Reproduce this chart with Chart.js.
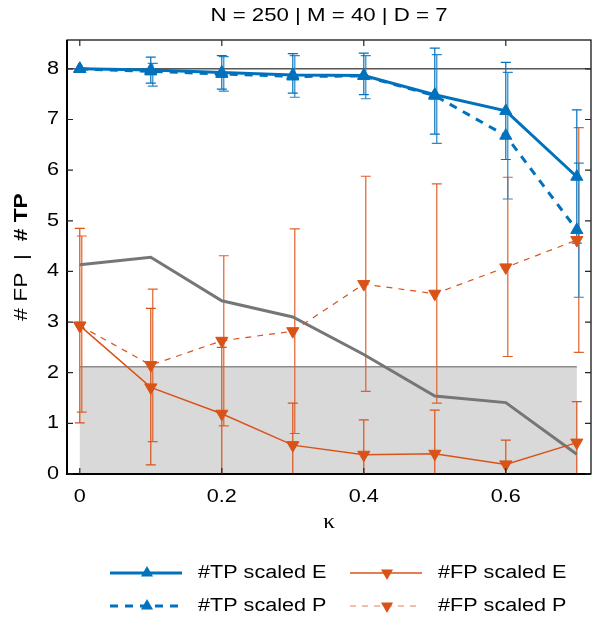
<!DOCTYPE html>
<html>
<head>
<meta charset="utf-8">
<script src="https://cdn.jsdelivr.net/npm/chart.js@4.4.1/dist/chart.umd.min.js"></script>
<style>
  html, body { margin: 0; padding: 0; background: #ffffff; }
  #wrap { width: 599px; height: 619px; }
</style>
</head>
<body>
<div id="wrap"><canvas id="c" width="599" height="619"></canvas></div>
<script>
// ---------- data ----------
const kappa = [0, 0.1, 0.2, 0.3, 0.4, 0.5, 0.6, 0.7];

const tpScaledE     = [8.00, 7.98, 7.93, 7.88, 7.87, 7.49, 7.17, 5.87];
const tpScaledELow  = [8.00, 7.72, 7.60, 7.52, 7.49, 6.71, 6.21, 4.56];
const tpScaledEHigh = [8.00, 8.23, 8.26, 8.30, 8.31, 8.41, 8.13, 7.19];

const tpScaledP     = [8.00, 7.95, 7.90, 7.85, 7.86, 7.47, 6.68, 4.82];
const tpScaledPLow  = [8.00, 7.66, 7.56, 7.44, 7.41, 6.53, 5.43, 3.49];
const tpScaledPHigh = [8.00, 8.11, 8.24, 8.26, 8.26, 8.28, 7.93, 6.14];

const fpScaledE     = [2.93, 1.71, 1.19, 0.57, 0.38, 0.40, 0.19, 0.62];
const fpScaledELow  = [1.01, 0.18, -0.12, -0.26, -0.31, -0.44, -0.29, -0.19];
const fpScaledEHigh = [4.85, 3.27, 2.50, 1.40, 1.07, 1.26, 0.67, 1.43];

const fpScaledP     = [2.93, 2.15, 2.63, 2.82, 3.75, 3.56, 4.08, 4.62];
const fpScaledPLow  = [1.22, 0.64, 0.95, 0.80, 1.63, 1.40, 2.32, 2.40];
const fpScaledPHigh = [4.70, 3.65, 4.31, 4.84, 5.88, 5.73, 5.86, 6.84];

const grayLine = [4.13, 4.28, 3.42, 3.10, 2.36, 1.54, 1.41, 0.39];

const shadeX = [0, 0.7];
const shadeY = [0, 2.12];
const refLineY = 8;

const xTicks = [0, 0.2, 0.4, 0.6];
const yTicks = [0, 1, 2, 3, 4, 5, 6, 7, 8];
const xRange = [-0.018, 0.72];
const yRange = [0, 8.57];

const titleText = 'N = 250 | M = 40 | D = 7';
const xTitle = 'κ';
const yTitleNormal = '# FP  |  ';
const yTitleBold = '# TP';

const legendLabels = ['#TP scaled E', '#TP scaled P', '#FP scaled E', '#FP scaled P'];

// ---------- styles ----------
const BLUE = '#0072BD';
const ORANGE = '#D95319';
const FONT = "'Liberation Sans', Arial, Helvetica, sans-serif";
const SX = 1.2; // horizontal text widening

function pts(ys) { return kappa.map((x, i) => ({ x: x, y: ys[i] })); }

const datasets = [
  { label: 'gray', data: pts(grayLine), borderColor: '#767676', borderWidth: 3,
    pointRadius: 0, fill: false, tension: 0, order: 5 },
  { label: legendLabels[3], data: pts(fpScaledP), borderColor: ORANGE, borderWidth: 1.2,
    borderDash: [6, 6], pointStyle: 'triangle', pointRotation: 180, pointRadius: 7,
    pointBackgroundColor: ORANGE, pointBorderColor: ORANGE, pointBorderWidth: 1, order: 4 },
  { label: legendLabels[2], data: pts(fpScaledE), borderColor: ORANGE, borderWidth: 1.5,
    pointStyle: 'triangle', pointRotation: 180, pointRadius: 7,
    pointBackgroundColor: ORANGE, pointBorderColor: ORANGE, pointBorderWidth: 1, order: 3 },
  { label: legendLabels[1], data: pts(tpScaledP), borderColor: BLUE, borderWidth: 3,
    borderDash: [8, 7], pointStyle: 'triangle', pointRadius: 7,
    pointBackgroundColor: BLUE, pointBorderColor: BLUE, pointBorderWidth: 1, order: 2 },
  { label: legendLabels[0], data: pts(tpScaledE), borderColor: BLUE, borderWidth: 3,
    pointStyle: 'triangle', pointRadius: 7,
    pointBackgroundColor: BLUE, pointBorderColor: BLUE, pointBorderWidth: 1, order: 1 }
];

const errorSets = [
  { low: fpScaledPLow, high: fpScaledPHigh, color: '#E0622A', width: 1.2, off: 2 },
  { low: fpScaledELow, high: fpScaledEHigh, color: ORANGE, width: 1.2, off: 0 },
  { low: tpScaledPLow, high: tpScaledPHigh, color: '#2A86C8', width: 1.2, off: 2 },
  { low: tpScaledELow, high: tpScaledEHigh, color: BLUE, width: 1.2, off: 0 }
];

function triangle(ctx, cx, cy, r, down) {
  const s = down ? -1 : 1;
  ctx.beginPath();
  ctx.moveTo(cx, cy - s * r);
  ctx.lineTo(cx - r * 0.866, cy + s * r / 2);
  ctx.lineTo(cx + r * 0.866, cy + s * r / 2);
  ctx.closePath();
  ctx.fill();
}

function wideText(ctx, text, x, y, align, font, sx) {
  ctx.save();
  ctx.translate(x, y);
  ctx.scale(sx, 1);
  ctx.font = font;
  ctx.textAlign = align;
  ctx.textBaseline = 'middle';
  ctx.fillText(text, 0, 0);
  ctx.restore();
}

const decor = {
  id: 'decor',
  beforeDatasetsDraw(chart) {
    const ctx = chart.ctx, xs = chart.scales.x, ys = chart.scales.y, a = chart.chartArea;
    ctx.save();
    ctx.beginPath(); ctx.rect(a.left, a.top, a.right - a.left, a.bottom - a.top); ctx.clip();
    // shaded region
    const x0 = xs.getPixelForValue(shadeX[0]), x1 = xs.getPixelForValue(shadeX[1]);
    const y0 = ys.getPixelForValue(shadeY[0]), y1 = ys.getPixelForValue(shadeY[1]);
    ctx.fillStyle = '#d9d9d9';
    ctx.fillRect(x0, y1, x1 - x0, y0 - y1);
    ctx.strokeStyle = '#8c8c8c'; ctx.lineWidth = 1.5;
    ctx.beginPath(); ctx.moveTo(x0, y1); ctx.lineTo(x1, y1); ctx.stroke();
    // reference line
    const yr = ys.getPixelForValue(refLineY);
    ctx.strokeStyle = '#000'; ctx.lineWidth = 1;
    ctx.beginPath(); ctx.moveTo(a.left, yr); ctx.lineTo(a.right, yr); ctx.stroke();
    // error bars
    errorSets.forEach(es => {
      ctx.strokeStyle = es.color; ctx.lineWidth = es.width;
      kappa.forEach((k, i) => {
        if (es.low[i] === es.high[i]) return;
        const px = xs.getPixelForValue(k) + es.off;
        const pl = ys.getPixelForValue(es.low[i]), ph = ys.getPixelForValue(es.high[i]);
        ctx.beginPath();
        ctx.moveTo(px, pl); ctx.lineTo(px, ph);
        ctx.moveTo(px - 5, pl); ctx.lineTo(px + 5, pl);
        ctx.moveTo(px - 5, ph); ctx.lineTo(px + 5, ph);
        ctx.stroke();
      });
    });
    ctx.restore();
  },
  afterDraw(chart) {
    const ctx = chart.ctx, xs = chart.scales.x, ys = chart.scales.y, a = chart.chartArea;
    ctx.save();
    // box
    ctx.strokeStyle = '#000';
    ctx.lineWidth = 1.2;
    ctx.strokeRect(a.left, a.top, a.right - a.left, a.bottom - a.top);
    ctx.lineWidth = 2;
    ctx.beginPath();
    ctx.moveTo(a.left, a.top); ctx.lineTo(a.left, a.bottom); ctx.lineTo(a.right, a.bottom);
    ctx.stroke();
    // ticks
    ctx.lineWidth = 1.2;
    ctx.strokeStyle = '#262626';
    ctx.beginPath();
    xTicks.forEach(v => {
      const px = xs.getPixelForValue(v);
      ctx.moveTo(px, a.bottom); ctx.lineTo(px, a.bottom - 6);
      ctx.moveTo(px, a.top); ctx.lineTo(px, a.top + 6);
    });
    yTicks.forEach(v => {
      const py = ys.getPixelForValue(v);
      ctx.moveTo(a.left, py); ctx.lineTo(a.left + 6, py);
      ctx.moveTo(a.right, py); ctx.lineTo(a.right - 6, py);
    });
    ctx.stroke();
    ctx.fillStyle = '#000';
    // tick labels
    const tf = '18px ' + FONT;
    xTicks.forEach(v => wideText(ctx, String(v), xs.getPixelForValue(v), a.bottom + 23, 'center', tf, SX));
    yTicks.forEach(v => wideText(ctx, String(v), a.left - 8, ys.getPixelForValue(v), 'right', tf, SX));
    // title
    wideText(ctx, titleText, (a.left + a.right) / 2, 16, 'center', '19px ' + FONT, 1.17);
    // x title
    wideText(ctx, xTitle, (a.left + a.right) / 2, 522, 'center', '21px "Liberation Serif", "DejaVu Serif", serif', 1.1);
    // y title
    ctx.save();
    ctx.translate(22, (a.top + a.bottom) / 2);
    ctx.rotate(-Math.PI / 2);
    ctx.scale(1.2, 1);
    ctx.textBaseline = 'middle'; ctx.textAlign = 'left';
    const fN = '19px ' + FONT, fB = 'bold 19px ' + FONT;
    ctx.font = fN; const w1 = ctx.measureText(yTitleNormal).width;
    ctx.font = fB; const w2 = ctx.measureText(yTitleBold).width;
    const start = -(w1 + w2) / 2;
    ctx.font = fN; ctx.fillText(yTitleNormal, start, 0);
    ctx.font = fB; ctx.fillText(yTitleBold, start + w1, 0);
    ctx.restore();
    // legend
    const items = [
      { label: legendLabels[0], color: BLUE, width: 3, dash: [], down: false, col: 0, row: 0 },
      { label: legendLabels[1], color: BLUE, width: 3, dash: [8, 7], down: false, col: 0, row: 1 },
      { label: legendLabels[2], color: ORANGE, width: 1.5, dash: [], down: true, col: 1, row: 0 },
      { label: legendLabels[3], color: '#E8804F', width: 1.2, dash: [6, 6], down: true, col: 1, row: 1 }
    ];
    const colX = [110, 350], rowY = [573, 606];
    items.forEach(it => {
      const x = colX[it.col], y = rowY[it.row];
      ctx.strokeStyle = it.color; ctx.lineWidth = it.width; ctx.setLineDash(it.dash);
      ctx.beginPath(); ctx.moveTo(x, y); ctx.lineTo(x + 72, y); ctx.stroke();
      ctx.setLineDash([]);
      ctx.fillStyle = it.down ? ORANGE : BLUE;
      triangle(ctx, x + 37, y, 7, it.down);
      ctx.fillStyle = '#000';
      wideText(ctx, it.label, x + 88, y, 'left', '18px ' + FONT, SX);
    });
    ctx.restore();
  }
};

new Chart(document.getElementById('c'), {
  type: 'line',
  data: { datasets: datasets },
  options: {
    responsive: false,
    animation: false,
    devicePixelRatio: 1,
    layout: { padding: { top: 40, right: 8, left: 0, bottom: 0 } },
    plugins: { legend: { display: false }, title: { display: false }, tooltip: { enabled: false } },
    scales: {
      x: {
        type: 'linear', min: xRange[0], max: xRange[1],
        grid: { display: false, drawTicks: false }, border: { display: false },
        afterBuildTicks: s => { s.ticks = xTicks.map(v => ({ value: v })); },
        afterFit: s => { s.height = 145; },
        ticks: { display: false }
      },
      y: {
        type: 'linear', min: yRange[0], max: yRange[1],
        grid: { display: false, drawTicks: false }, border: { display: false },
        afterBuildTicks: s => { s.ticks = yTicks.map(v => ({ value: v })); },
        afterFit: s => { s.width = 67; },
        ticks: { display: false }
      }
    }
  },
  plugins: [decor]
});
</script>
</body>
</html>
